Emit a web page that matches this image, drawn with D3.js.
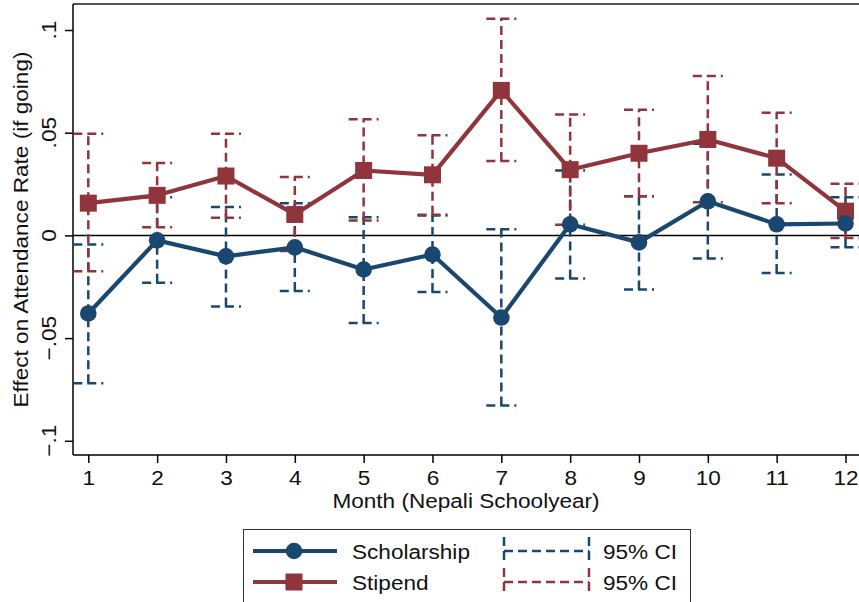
<!doctype html>
<html>
<head>
    <meta charset="utf-8">
    <title>Attendance effect by month</title>
    <script src="https://cdnjs.cloudflare.com/ajax/libs/d3/7.8.5/d3.min.js"></script>
    <style>
        body { margin: 0; background: #fff; }
        svg text { font-family: "Liberation Sans", Arial, sans-serif; fill: #111; font-size: 21px; }
    </style>
</head>
<body>
<svg width="859" height="602"></svg>
<script>
    // values
    let months = [1, 2, 3, 4, 5, 6, 7, 8, 9, 10, 11, 12];
    let yTicks = [-0.1, -0.05, 0, 0.05, 0.1];
    let yTickLabels = ["\u2212.1", "\u2212.05", "0", ".05", ".1"];

    let scholarship   = [-0.038, -0.0024, -0.0102, -0.0058, -0.0166, -0.0093, -0.040, 0.0054, -0.0034, 0.0166, 0.0054, 0.0058];
    let scholarshipLo = [-0.072, -0.023, -0.0346, -0.0271, -0.0427, -0.0276, -0.0828, -0.021, -0.0263, -0.0112, -0.0183, -0.0058];
    let scholarshipHi = [-0.0044, 0.0186, 0.0138, 0.0157, 0.0088, 0.0097, 0.003, 0.0316, 0.019, 0.0446, 0.0297, 0.0186];

    let stipend   = [0.0157, 0.0195, 0.0289, 0.0102, 0.0316, 0.0295, 0.0706, 0.032, 0.040, 0.0467, 0.0376, 0.0118];
    let stipendLo = [-0.0174, 0.004, 0.0086, -0.0076, 0.0073, 0.0101, 0.0362, 0.0052, 0.0191, 0.0162, 0.0157, -0.0013];
    let stipendHi = [0.0495, 0.0352, 0.0495, 0.0284, 0.0565, 0.0487, 0.1055, 0.0589, 0.0612, 0.0776, 0.0597, 0.0252];

    let blue = "#1a476f", red = "#90353b";
    let dash = "9,5";
    let stretch = "scale(1.075,1)";   // the original font runs a bit wider than Arial

    let svg = d3.select("svg");
    let plotLeft = 73, plotRight = 861, plotTop = 4, plotBottom = 455;

    let x = d3.scaleLinear().domain([1, 12]).range([88.3, 845.5]);
    let y = d3.scaleLinear().domain([-0.1, 0.1]).range([440.8, 30]);

    function label(parent, px, py, rot, txt, anchor) {
        return parent.append("text")
            .attr("transform", "translate(" + px + "," + py + ") rotate(" + rot + ") " + stretch)
            .attr("text-anchor", anchor)
            .text(txt);
    }

    // plot region outline (top edge) and zero line
    svg.append("line")
        .attr("x1", plotLeft).attr("x2", plotRight)
        .attr("y1", plotTop).attr("y2", plotTop)
        .attr("stroke", "#555").attr("stroke-width", 2);

    svg.append("line")
        .attr("x1", plotLeft).attr("x2", plotRight)
        .attr("y1", y(0)).attr("y2", y(0))
        .attr("stroke", "#000").attr("stroke-width", 1.5);

    // axes
    let yAxis = d3.axisLeft(y).tickValues(yTicks).tickSize(8).tickFormat("");
    svg.append("g")
        .attr("transform", "translate(" + plotLeft + ",0)")
        .call(yAxis)
        .call(g => g.select(".domain").attr("d", "M0," + plotTop + "V" + plotBottom))
        .selectAll("line, path").attr("stroke", "#000").attr("stroke-width", 1.5);

    let yLabels = svg.append("g");
    yTicks.forEach(function(d, i) {
        label(yLabels, 56, y(d), -90, yTickLabels[i], "middle");
    });

    let xAxis = d3.axisBottom(x).tickValues(months).tickSize(8).tickFormat(d3.format("d"));
    let xg = svg.append("g")
        .attr("transform", "translate(0," + plotBottom + ")")
        .call(xAxis);
    xg.attr("font-size", null).attr("font-family", null);
    xg.select(".domain").attr("d", "M" + plotLeft + ",0H" + plotRight);
    xg.selectAll("line, path").attr("stroke", "#000").attr("stroke-width", 1.5);
    xg.selectAll("text")
        .attr("y", 30).attr("dy", 0)
        .attr("transform", stretch)
        .attr("fill", "#111");

    label(svg, (plotLeft + 859) / 2, 508, 0, "Month (Nepali Schoolyear)", "middle");
    label(svg, 28, (plotTop + plotBottom) / 2, -90, "Effect on Attendance Rate (if going)", "middle");

    // confidence intervals (dashed capped spikes)
    function drawCI(lo, hi, color) {
        let g = svg.append("g")
            .attr("stroke", color).attr("stroke-width", 2.5)
            .attr("stroke-dasharray", dash).attr("fill", "none");
        g.selectAll(".spike")
            .data(months)
            .enter()
            .append("line")
            .attr("x1", d => x(d)).attr("x2", d => x(d))
            .attr("y1", (d, i) => y(lo[i])).attr("y2", (d, i) => y(hi[i]));
        [lo, hi].forEach(function(arr) {
            g.append("g").selectAll("line")
                .data(months)
                .enter()
                .append("line")
                .attr("x1", d => x(d) - 15).attr("x2", d => x(d) + 15)
                .attr("y1", (d, i) => y(arr[i])).attr("y2", (d, i) => y(arr[i]));
        });
    }
    drawCI(scholarshipLo, scholarshipHi, blue);
    drawCI(stipendLo, stipendHi, red);

    // series lines and markers
    let line = d3.line().x(d => x(d[0])).y(d => y(d[1]));

    svg.append("path")
        .datum(months.map((m, i) => [m, stipend[i]]))
        .attr("d", line)
        .attr("fill", "none").attr("stroke", red).attr("stroke-width", 4.2)
        .attr("stroke-linejoin", "round");
    svg.append("g").selectAll("rect")
        .data(months)
        .enter()
        .append("rect")
        .attr("x", d => x(d) - 8.5).attr("y", (d, i) => y(stipend[i]) - 8.5)
        .attr("width", 17).attr("height", 17)
        .attr("fill", red);

    svg.append("path")
        .datum(months.map((m, i) => [m, scholarship[i]]))
        .attr("d", line)
        .attr("fill", "none").attr("stroke", blue).attr("stroke-width", 4.2)
        .attr("stroke-linejoin", "round");
    svg.append("g").selectAll("circle")
        .data(months)
        .enter()
        .append("circle")
        .attr("cx", d => x(d)).attr("cy", (d, i) => y(scholarship[i]))
        .attr("r", 8.3)
        .attr("fill", blue);

    // legend
    let legend = svg.append("g");
    legend.append("rect")
        .attr("x", 243.5).attr("y", 529.5).attr("width", 447).attr("height", 100)
        .attr("fill", "#fff").attr("stroke", "#333").attr("stroke-width", 1);

    let rows = [
        { label: "Scholarship", color: blue, cy: 551, marker: "circle" },
        { label: "Stipend", color: red, cy: 582, marker: "square" }
    ];
    rows.forEach(function(r) {
        legend.append("line")
            .attr("x1", 253).attr("x2", 337).attr("y1", r.cy).attr("y2", r.cy)
            .attr("stroke", r.color).attr("stroke-width", 4.2);
        if (r.marker === "circle") {
            legend.append("circle").attr("cx", 294).attr("cy", r.cy).attr("r", 8.3).attr("fill", r.color);
        } else {
            legend.append("rect").attr("x", 285.5).attr("y", r.cy - 8.5)
                .attr("width", 17).attr("height", 17).attr("fill", r.color);
        }
        label(legend, 352, r.cy + 7.5, 0, r.label, "start");

        let ci = legend.append("g")
            .attr("stroke", r.color).attr("stroke-width", 2.5)
            .attr("stroke-dasharray", dash);
        ci.append("line").attr("x1", 504).attr("x2", 589).attr("y1", r.cy).attr("y2", r.cy);
        ci.append("line").attr("x1", 504).attr("x2", 504).attr("y1", r.cy - 14).attr("y2", r.cy + 14);
        ci.append("line").attr("x1", 589).attr("x2", 589).attr("y1", r.cy - 14).attr("y2", r.cy + 14);
        label(legend, 603, r.cy + 7.5, 0, "95% CI", "start");
    });
</script>
</body>
</html>
